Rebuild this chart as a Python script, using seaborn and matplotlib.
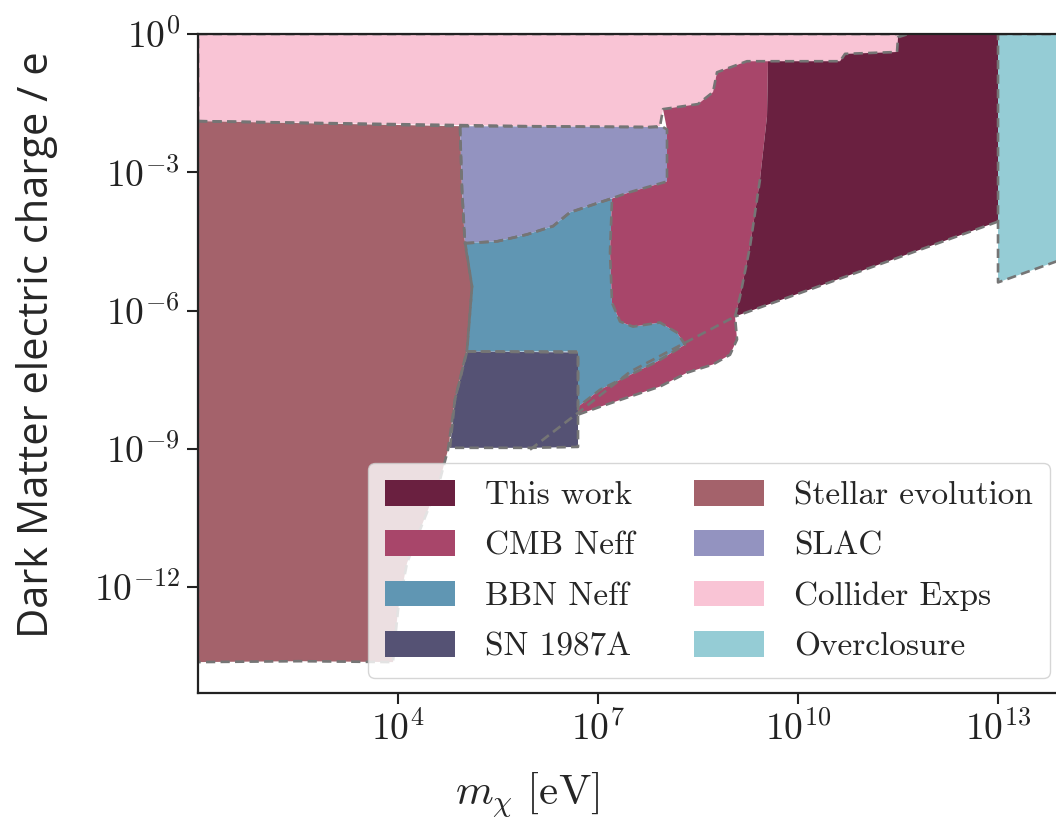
import numpy as np
import matplotlib
matplotlib.use("Agg")
import matplotlib.pyplot as plt
from matplotlib.ticker import FixedLocator, FixedFormatter, NullLocator
import seaborn as sns

# outlines of the excluded regions, as log10(m / eV) and log10(q / e)
collider_logm = [1.0, 5.98, 7.78, 7.93, 7.975, 8.5, 8.725, 8.785, 9.235, 10.63, 10.705, 11.485, 11.5, 11.65, 11.65, 1.0]
collider_logq = [-1.89, -2.0, -2.02, -2.0, -1.63, -1.52, -1.26, -0.83, -0.59, -0.59, -0.43, -0.39, -0.07, 0.0, 0.0, 0.0]

stellar_logm = [1.0, 4.93, 4.96, 5.0, 5.11, 5.035, 4.855, 4.75, 4.63, 4.33, 4.135, 4.0, 3.955, 3.925, 2.53, 1.0]
stellar_logq = [-1.89, -2.0, -3.37, -4.46, -5.48, -6.85, -7.93, -9.02, -9.67, -10.76, -11.48, -12.5, -13.15, -13.63, -13.61, -13.63]

slac_logm = [4.93, 7.975, 8.035, 8.035, 7.48, 7.075, 6.58, 6.325, 5.935, 5.485, 5.005, 4.96]
slac_logq = [-2.0, -2.02, -2.07, -3.2, -3.43, -3.63, -3.87, -4.17, -4.35, -4.5, -4.54, -3.37]

bbn_logm = [5.005, 5.485, 5.935, 6.325, 6.58, 7.075, 7.21, 7.18, 7.21, 7.33, 7.525, 7.93, 8.185, 8.305,
            7.885, 7.435, 7.03, 6.7, 6.7, 5.035, 5.11]
bbn_logq = [-4.54, -4.5, -4.35, -4.17, -3.87, -3.63, -3.57, -4.74, -5.83, -6.24, -6.35, -6.26, -6.48, -6.74,
            -7.11, -7.43, -7.72, -8.09, -6.89, -6.89, -5.48]

sn_logm = [5.035, 6.7, 6.7, 5.98, 4.78, 4.855]
sn_logq = [-6.89, -6.91, -8.96, -8.98, -8.98, -7.93]

cmb_logm = [8.035, 7.975, 8.5, 8.725, 8.785, 9.235, 9.55, 9.535, 9.43, 9.28, 9.13, 9.055, 9.085, 8.98,
            8.725, 8.335, 7.93, 7.435, 7.03, 6.7, 6.7, 7.03, 7.435, 7.885, 8.305, 8.185, 7.93, 7.525,
            7.33, 7.21, 7.18, 7.21, 7.48, 8.035]
cmb_logq = [-2.07, -1.63, -1.52, -1.26, -0.83, -0.59, -0.59, -1.78, -3.15, -4.61, -5.7, -6.13, -6.63, -6.96,
            -7.17, -7.35, -7.65, -7.89, -8.09, -8.26, -8.09, -7.72, -7.43, -7.11, -6.74, -6.48, -6.26, -6.35,
            -6.24, -5.83, -4.74, -3.57, -3.43, -3.2]

thiswork_logm = [9.55, 10.63, 10.705, 11.485, 11.5, 11.65, 13.0, 13.0, 9.055, 9.13, 9.28, 9.43, 9.535]
thiswork_logq = [-0.59, -0.59, -0.43, -0.39, -0.07, 0.0, 0.0, -4.07, -6.13, -5.7, -4.61, -3.15, -1.78]

overclosure_logm = [13.0, 14.5, 14.5, 13.0]
overclosure_logq = [0.0, 0.0, -4.61, -5.39]

# extra dashed boundary crossing the SN / BBN area
sn_line_logm = [5.98, 6.7, 7.48, 8.305, 9.055]
sn_line_logq = [-9.02, -8.22, -7.33, -6.7, -6.13]

region_names = ["Collider Exps", "Stellar evolution", "SLAC", "BBN Neff", "SN 1987A",
                "CMB Neff", "This work", "Overclosure"]
region_colors = ["#F9C4D5", "#A4626B", "#9393C0", "#6096B3", "#555274",
                 "#A8466A", "#6A2040", "#95CCD5"]
legend_order = ["This work", "CMB Neff", "BBN Neff", "SN 1987A",
                "Stellar evolution", "SLAC", "Collider Exps", "Overclosure"]

xtick_exp = [4, 7, 10, 13]
xtick_labels = [r"$10^{4}$", r"$10^{7}$", r"$10^{10}$", r"$10^{13}$"]
ytick_exp = [0, -3, -6, -9, -12]
ytick_labels = [r"$10^{0}$", r"$10^{-3}$", r"$10^{-6}$", r"$10^{-9}$", r"$10^{-12}$"]

outlines = [(collider_logm, collider_logq), (stellar_logm, stellar_logq), (slac_logm, slac_logq),
            (bbn_logm, bbn_logq), (sn_logm, sn_logq), (cmb_logm, cmb_logq),
            (thiswork_logm, thiswork_logq), (overclosure_logm, overclosure_logq)]

# dashed edges (closed outlines, plus the open parts that are not shared)
dashed = [(collider_logm, collider_logq, True), (stellar_logm, stellar_logq, True),
          (slac_logm, slac_logq, True), (bbn_logm, bbn_logq, True), (sn_logm, sn_logq, True),
          (overclosure_logm, overclosure_logq, True),
          (cmb_logm[8:20], cmb_logq[8:20], False),
          (thiswork_logm[7:9], thiswork_logq[7:9], False),
          (sn_line_logm, sn_line_logq, False)]

sns.set_theme(style="ticks", rc={
    "axes.linewidth": 1.6,
    "axes.edgecolor": "#222222",
    "xtick.major.size": 8, "ytick.major.size": 8,
    "xtick.major.width": 1.5, "ytick.major.width": 1.5,
    "xtick.color": "#222222", "ytick.color": "#222222",
})
plt.rcParams["mathtext.fontset"] = "cm"

fig = plt.figure(figsize=(10.56, 8.32), dpi=100)
ax = fig.add_axes([0.1875, 0.1671, 0.8523, 0.792])
ax.set_xscale("log")
ax.set_yscale("log")

handles = {}
for name, col, (lm, lq) in zip(region_names, region_colors, outlines):
    m = 10.0 ** np.array(lm)
    q = 10.0 ** np.array(lq)
    handles[name] = ax.fill(m, q, color=col, lw=0, label=name, zorder=1)[0]

for lm, lq, closed in dashed:
    if closed:
        lm, lq = lm + lm[:1], lq + lq[:1]
    ax.plot(10.0 ** np.array(lm), 10.0 ** np.array(lq), ls=(0, (3.5, 2)),
            color="#757575", lw=1.9, zorder=2)

ax.set_xlim(1e1, 10 ** 14.5)
ax.set_ylim(10 ** -14.3, 1e0)

ax.xaxis.set_major_locator(FixedLocator([10.0 ** e for e in xtick_exp]))
ax.xaxis.set_major_formatter(FixedFormatter(xtick_labels))
ax.yaxis.set_major_locator(FixedLocator([10.0 ** e for e in ytick_exp]))
ax.yaxis.set_major_formatter(FixedFormatter(ytick_labels))
ax.xaxis.set_minor_locator(NullLocator())
ax.yaxis.set_minor_locator(NullLocator())
ax.tick_params(axis="both", which="major", labelsize=27, pad=5)

fig.text(527 / 1056, 1 - 795 / 832, r"$m_\chi\ [\mathrm{eV}]$", fontsize=31,
         ha="center", va="center")
fig.text(37 / 1056, 1 - 345 / 832, "Dark Matter electric charge / e", rotation=90,
         fontsize=30, ha="center", va="center",
         family=["Open Sans", "DejaVu Sans"])

ax.legend(handles=[handles[n] for n in legend_order], ncol=2, loc="lower right",
          bbox_to_anchor=(1050 / 1056, 1 - 678 / 832), bbox_transform=fig.transFigure,
          borderaxespad=0, prop={"family": "cmr10", "size": 24}, frameon=True, fancybox=True,
          framealpha=0.8, edgecolor="#cccccc", handlelength=2.1, handleheight=0.8,
          handletextpad=0.9, columnspacing=1.8, labelspacing=0.6, borderpad=0.5)

fig.savefig("out.png", dpi=100)
